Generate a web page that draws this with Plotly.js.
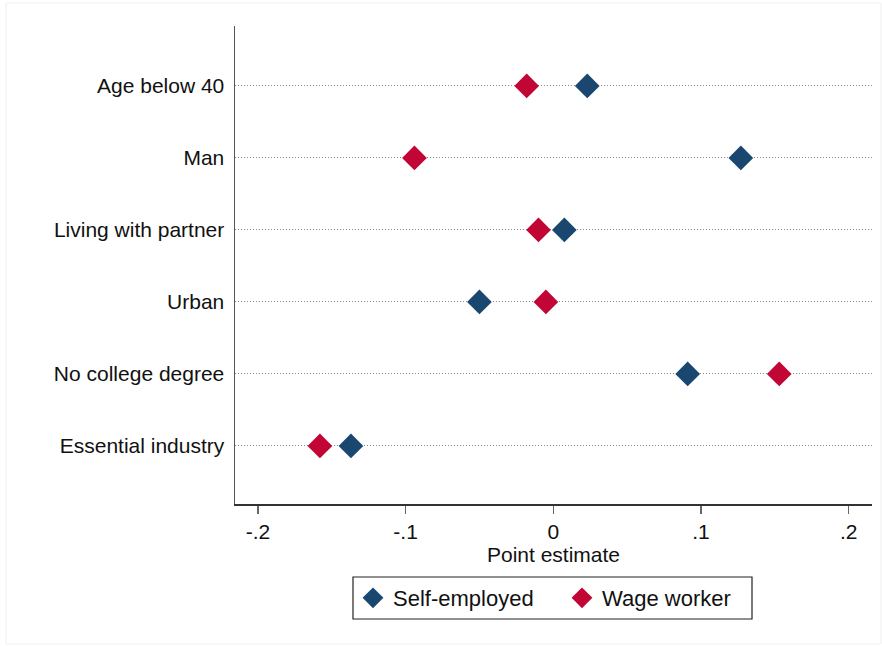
<!DOCTYPE html>
<html>
<head>
<meta charset="utf-8">
<script src="https://cdn.plot.ly/plotly-3.0.1.min.js"></script>
<style>html,body{margin:0;padding:0;background:#fff;}#chart{width:882px;height:646px;}</style>
</head>
<body>
<div id="chart"></div>
<script>
const categories = ["Age below 40", "Man", "Living with partner", "Urban", "No college degree", "Essential industry"];
const selfEmployed = [0.023, 0.127, 0.0075, -0.050, 0.091, -0.137];
const wageWorker = [-0.018, -0.094, -0.010, -0.005, 0.153, -0.158];
const xTickVals = [-0.2, -0.1, 0, 0.1, 0.2];
const xTickText = ["-.2", "-.1", "0", ".1", ".2"];

const fontFam = "Liberation Sans, Arial, sans-serif";
const W = 882, H = 646, ML = 235, MR = 10, MT = 26, MB = 142;
const PW = W - ML - MR, PH = H - MT - MB;
const px2x = p => (p - ML) / PW;
const px2y = p => (H - MB - p) / PH;

const traces = [
  {
    type: "scatter", mode: "markers", name: "Self-employed",
    x: selfEmployed, y: categories,
    marker: {symbol: "diamond", size: 19, color: "#1a476f", line: {width: 0}}
  },
  {
    type: "scatter", mode: "markers", name: "Wage worker",
    x: wageWorker, y: categories,
    marker: {symbol: "diamond", size: 19, color: "#c10534", line: {width: 0}}
  }
];

const layout = {
  width: W, height: H,
  margin: {l: ML, r: MR, t: MT, b: MB, autoexpand: false},
  paper_bgcolor: "#fff", plot_bgcolor: "#fff",
  font: {family: fontFam, size: 21, color: "#111"},
  showlegend: true,
  xaxis: {
    range: [-0.2155, 0.2158], autorange: false, automargin: false,
    tickvals: xTickVals, ticktext: xTickText,
    ticks: "outside", ticklen: 8, tickcolor: "#666", tickwidth: 1.5,
    showline: true, linecolor: "#333", linewidth: 1.5,
    showgrid: false, zeroline: false,
    tickfont: {size: 21, family: fontFam, color: "#111"},
    title: {text: "Point estimate", font: {size: 21, family: fontFam, color: "#111"}, standoff: 1}
  },
  yaxis: {
    type: "category", categoryorder: "array", categoryarray: categories,
    range: [5.806, -0.833], autorange: false, automargin: false,
    ticks: "", ticklabelstandoff: 5,
    showline: true, linecolor: "#555", linewidth: 1.5,
    showgrid: true, gridcolor: "#888", griddash: "1px,2px", gridwidth: 1,
    zeroline: false,
    tickfont: {size: 21, family: fontFam, color: "#111"}
  },
  legend: {
    orientation: "h", xref: "paper", x: px2x(353), xanchor: "left",
    yref: "container", y: 1 - 577 / H, yanchor: "top",
    borderwidth: 0, bgcolor: "rgba(0,0,0,0)",
    font: {size: 22, family: fontFam, color: "#111"},
    itemsizing: "trace", itemwidth: 30,
    entrywidth: 164, entrywidthmode: "pixels"
  },
  shapes: [
    {
      type: "rect", xref: "paper", yref: "paper", layer: "below",
      x0: px2x(6), x1: px2x(881), y0: px2y(644), y1: px2y(3),
      line: {color: "#f0f0f0", width: 1}, fillcolor: "rgba(0,0,0,0)"
    },
    {
      type: "rect", xref: "paper", yref: "paper", layer: "above",
      x0: px2x(353), x1: px2x(752), y0: px2y(619), y1: px2y(577),
      line: {color: "#222", width: 1.2}, fillcolor: "rgba(0,0,0,0)"
    }
  ]
};

Plotly.newPlot("chart", traces, layout, {displayModeBar: false, staticPlot: true});
</script>
</body>
</html>
